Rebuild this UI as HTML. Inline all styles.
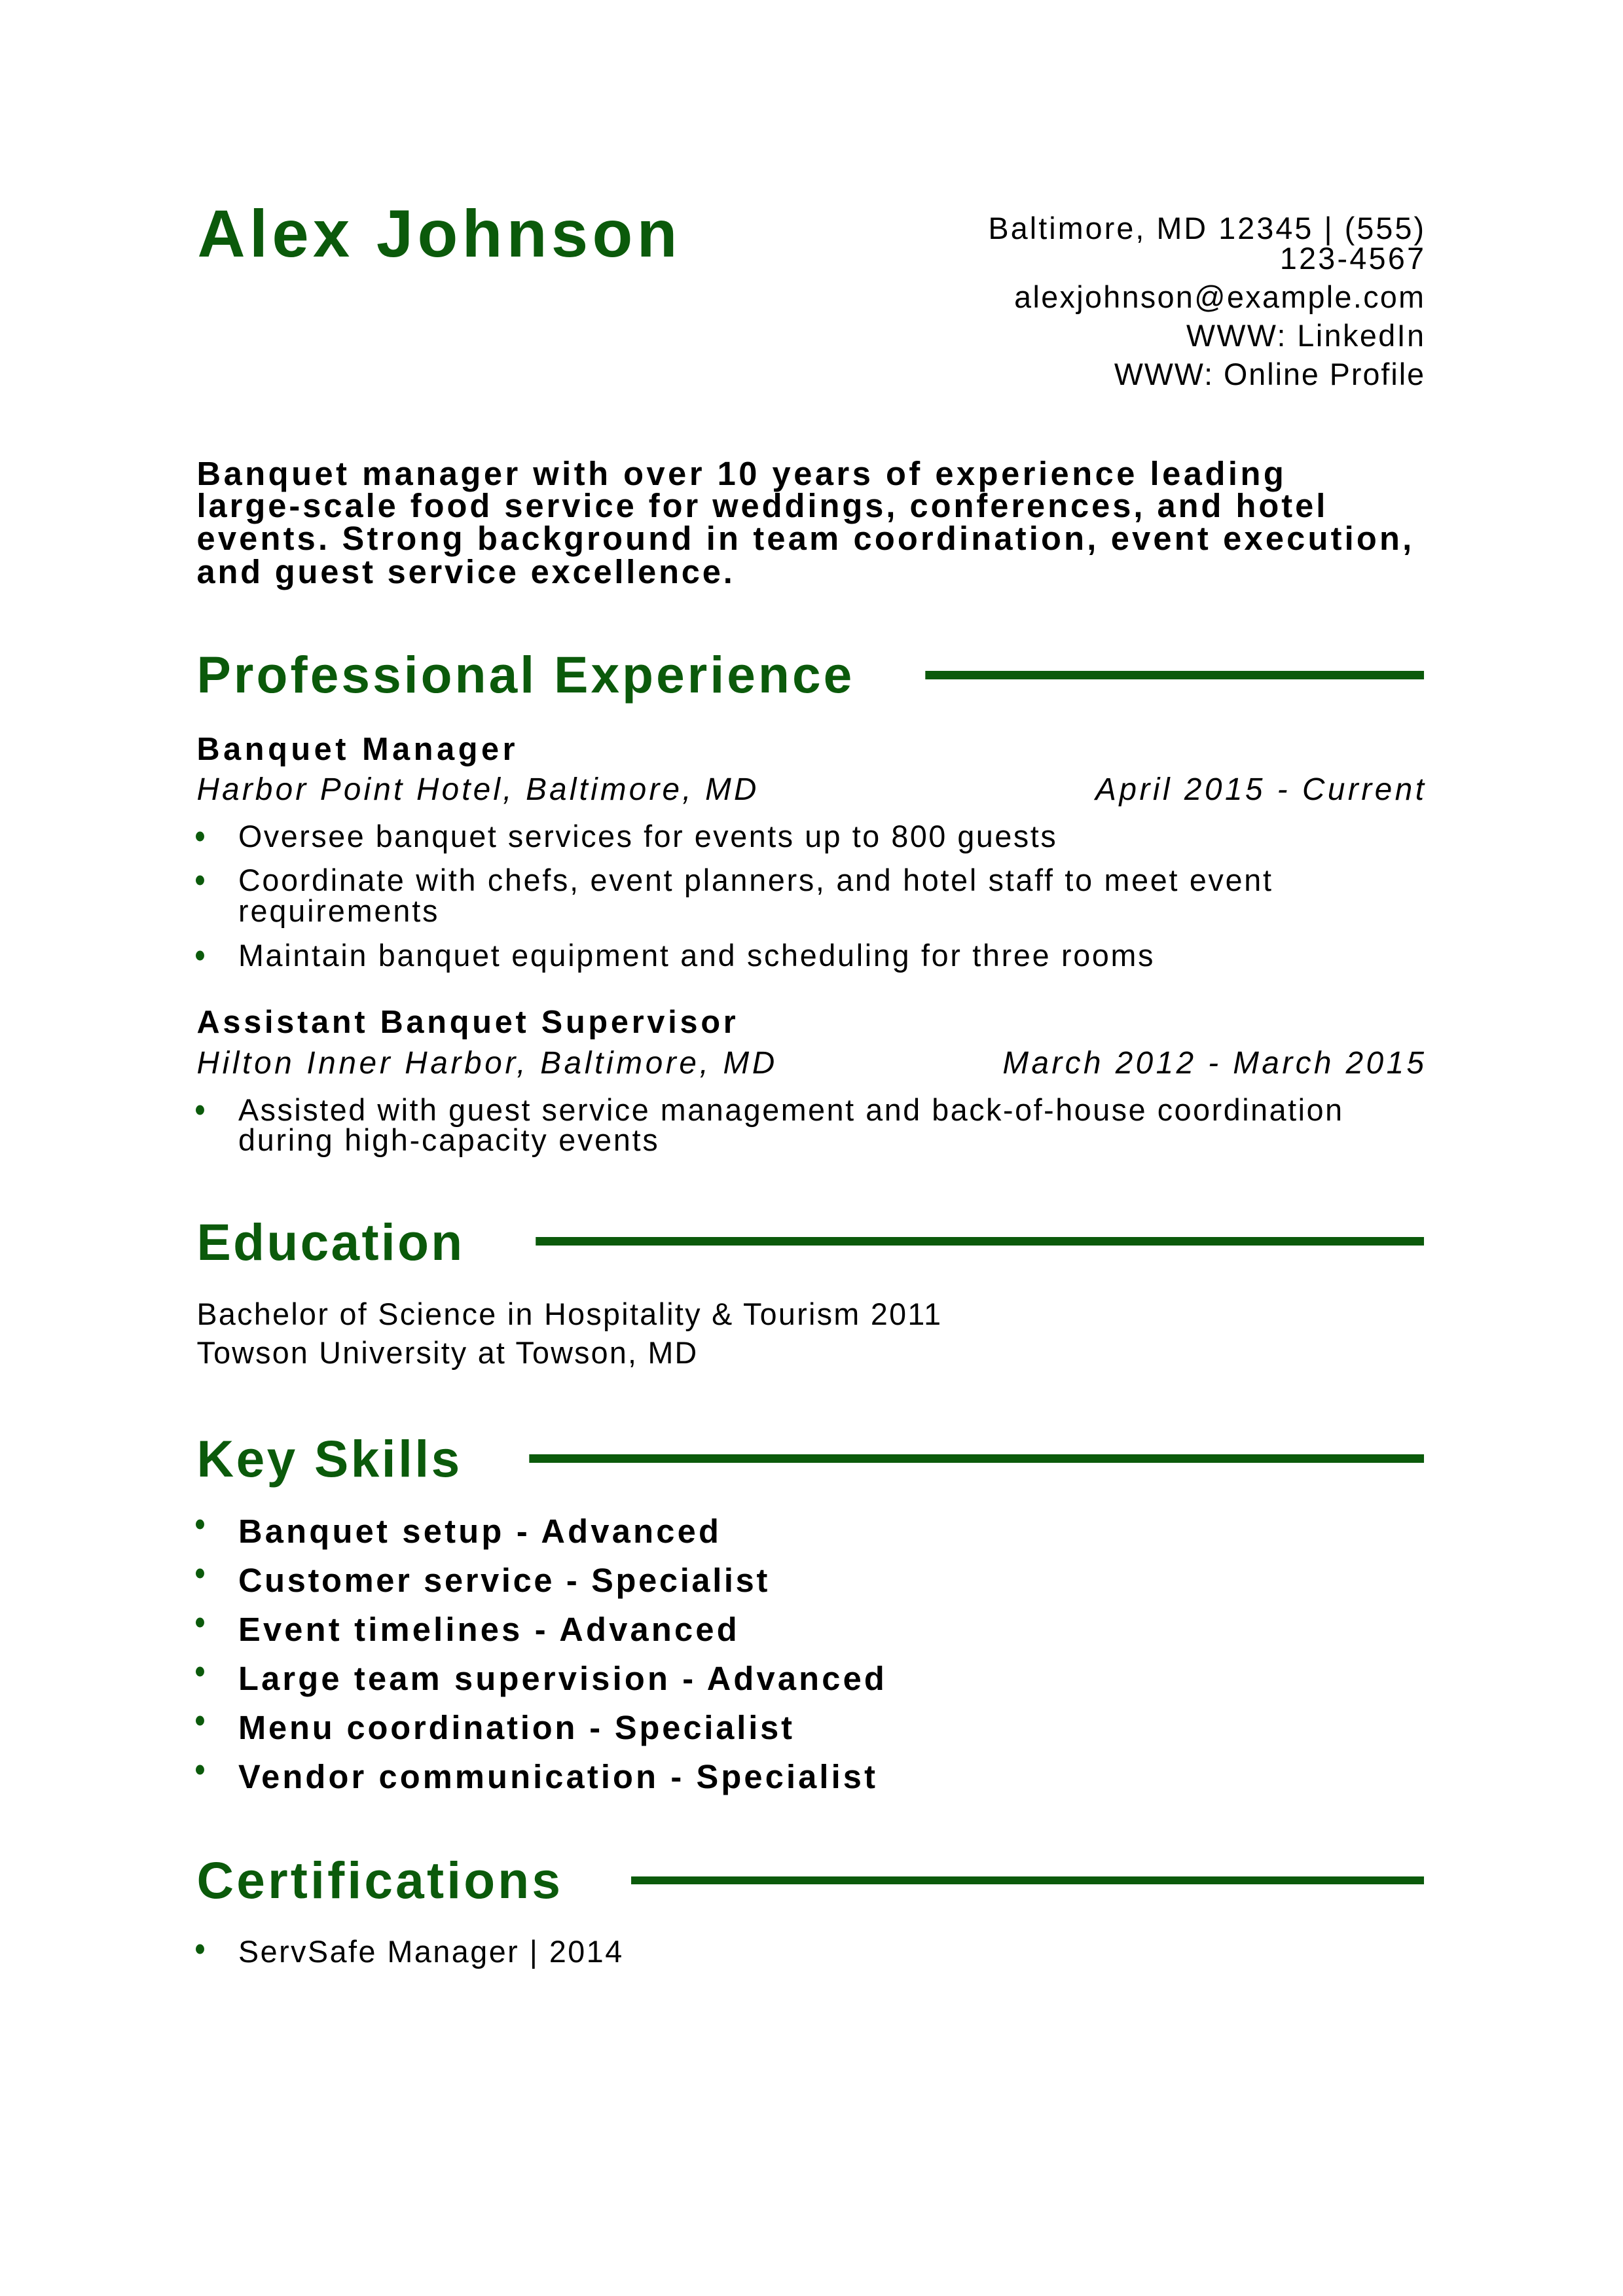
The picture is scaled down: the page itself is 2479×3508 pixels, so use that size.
<!DOCTYPE html>
<html><head><meta charset="utf-8"><style>
html,body{margin:0;padding:0;background:#fff;}
svg{display:block;}
text{font-family:"Liberation Sans",Arial,sans-serif;}
.g{fill:#0b5a0b;font-weight:bold;}
.b{font-weight:bold;fill:#000;}
.r{fill:#000;}
.i{fill:#000;font-style:italic;}
</style></head><body>
<svg width="2479" height="3508" viewBox="0 0 2479 3508" xmlns="http://www.w3.org/2000/svg">
<rect width="2479" height="3508" fill="#fff"/>
<g transform="scale(0.9918,1)">
<text class="g" x="304" y="392" font-size="102" textLength="739" lengthAdjust="spacing">Alex Johnson</text>

<g class="r" font-size="47" text-anchor="end">
<text x="2193" y="365" textLength="671" lengthAdjust="spacing">Baltimore, MD 12345 | (555)</text>
<text x="2193" y="411" textLength="222" lengthAdjust="spacing">123-4567</text>
<text x="2193" y="470" textLength="631" lengthAdjust="spacing">alexjohnson@example.com</text>
<text x="2193" y="529" textLength="366" lengthAdjust="spacing">WWW: LinkedIn</text>
<text x="2193" y="588" textLength="477" lengthAdjust="spacing">WWW: Online Profile</text>
</g>

<g class="b" font-size="51">
<text x="303" y="741" textLength="1674" lengthAdjust="spacing">Banquet manager with over 10 years of experience leading</text>
<text x="303" y="790" textLength="1738" lengthAdjust="spacing">large-scale food service for weddings, conferences, and hotel</text>
<text x="303" y="840" textLength="1871" lengthAdjust="spacing">events. Strong background in team coordination, event execution,</text>
<text x="303" y="891" textLength="825" lengthAdjust="spacing">and guest service excellence.</text>
</g>

<text class="g" x="303" y="1058" font-size="79" textLength="1009" lengthAdjust="spacing">Professional Experience</text>
<rect x="1425" y="1025" width="768" height="13" fill="#0b5a0b"/>

<text class="b" x="303" y="1161" font-size="49" textLength="490" lengthAdjust="spacing">Banquet Manager</text>
<text class="i" x="303" y="1222" font-size="48" textLength="862" lengthAdjust="spacing">Harbor Point Hotel, Baltimore, MD</text>
<text class="i" x="2193" y="1222" font-size="48" text-anchor="end" textLength="506" lengthAdjust="spacing">April 2015 - Current</text>

<g fill="#0b5a0b">
<ellipse cx="308" cy="1278" rx="6.5" ry="7.5"/>
<ellipse cx="308" cy="1345" rx="6.5" ry="7.5"/>
<ellipse cx="308" cy="1460" rx="6.5" ry="7.5"/>
<ellipse cx="308" cy="1696" rx="6.5" ry="7.5"/>
</g>
<g class="r" font-size="47">
<text x="367" y="1294" textLength="1259" lengthAdjust="spacing">Oversee banquet services for events up to 800 guests</text>
<text x="367" y="1361" textLength="1591" lengthAdjust="spacing">Coordinate with chefs, event planners, and hotel staff to meet event</text>
<text x="367" y="1408" textLength="307" lengthAdjust="spacing">requirements</text>
<text x="367" y="1476" textLength="1409" lengthAdjust="spacing">Maintain banquet equipment and scheduling for three rooms</text>
</g>

<text class="b" x="303" y="1578" font-size="49" textLength="830" lengthAdjust="spacing">Assistant Banquet Supervisor</text>
<text class="i" x="303" y="1640" font-size="48" textLength="890" lengthAdjust="spacing">Hilton Inner Harbor, Baltimore, MD</text>
<text class="i" x="2193" y="1640" font-size="48" text-anchor="end" textLength="649" lengthAdjust="spacing">March 2012 - March 2015</text>
<g class="r" font-size="47">
<text x="367" y="1712" textLength="1700" lengthAdjust="spacing">Assisted with guest service management and back-of-house coordination</text>
<text x="367" y="1758" textLength="646" lengthAdjust="spacing">during high-capacity events</text>
</g>

<text class="g" x="303" y="1925" font-size="79" textLength="409" lengthAdjust="spacing">Education</text>
<rect x="825" y="1890" width="1368" height="13" fill="#0b5a0b"/>
<g class="r" font-size="47">
<text x="303" y="2024" textLength="1146" lengthAdjust="spacing">Bachelor of Science in Hospitality &amp; Tourism 2011</text>
<text x="303" y="2083" textLength="770" lengthAdjust="spacing">Towson University at Towson, MD</text>
</g>

<text class="g" x="303" y="2256" font-size="79" textLength="405" lengthAdjust="spacing">Key Skills</text>
<rect x="815" y="2222" width="1378" height="13" fill="#0b5a0b"/>
<g fill="#0b5a0b">
<ellipse cx="308" cy="2329" rx="6.5" ry="7.5"/>
<ellipse cx="308" cy="2404" rx="6.5" ry="7.5"/>
<ellipse cx="308" cy="2479" rx="6.5" ry="7.5"/>
<ellipse cx="308" cy="2554" rx="6.5" ry="7.5"/>
<ellipse cx="308" cy="2629" rx="6.5" ry="7.5"/>
<ellipse cx="308" cy="2704" rx="6.5" ry="7.5"/>
</g>
<g class="b" font-size="51">
<text x="367" y="2357" textLength="740" lengthAdjust="spacing">Banquet setup - Advanced</text>
<text x="367" y="2432" textLength="815" lengthAdjust="spacing">Customer service - Specialist</text>
<text x="367" y="2507" textLength="768" lengthAdjust="spacing">Event timelines - Advanced</text>
<text x="367" y="2582" textLength="995" lengthAdjust="spacing">Large team supervision - Advanced</text>
<text x="367" y="2657" textLength="853" lengthAdjust="spacing">Menu coordination - Specialist</text>
<text x="367" y="2732" textLength="981" lengthAdjust="spacing">Vendor communication - Specialist</text>
</g>

<text class="g" x="303" y="2900" font-size="79" textLength="560" lengthAdjust="spacing">Certifications</text>
<rect x="972" y="2867" width="1221" height="12" fill="#0b5a0b"/>
<ellipse cx="308" cy="2978" rx="6.5" ry="7.5" fill="#0b5a0b"/>
<text class="r" x="367" y="2998" font-size="47" textLength="591" lengthAdjust="spacing">ServSafe Manager | 2014</text>
</g>
</svg>
</body></html>
